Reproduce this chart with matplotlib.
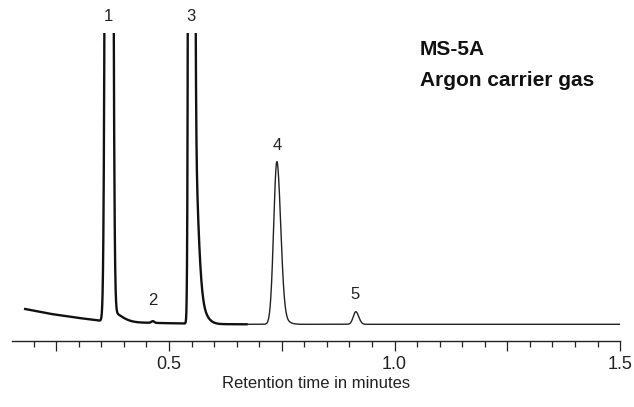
import numpy as np
import matplotlib.pyplot as plt
from matplotlib.ticker import FixedLocator, FixedFormatter

# peak components (time in min, height in detector units)
comp_time = [0.367, 0.369, 0.464, 0.549, 0.549, 0.549, 0.739, 0.741, 0.914]
comp_height = [4000, 10.2, 1.7, 8000, 230, 38, 155, 8, 12.6]
comp_sig_left = [0.00455, 0.005, 0.0033, 0.0029, 0.0033, 0.0033, 0.0071, 0.007, 0.0056]
comp_sig_right = [0.00455, 0.0237, 0.0033, 0.0035, 0.0106, 0.020, 0.0084, 0.016, 0.0066]

# baseline drift at the start of the run
drift_time = [0.181, 0.236, 0.292, 0.347, 0.40, 0.447, 0.53, 0.60, 0.67, 1.5]
drift_level = [15.3, 10.5, 6.8, 3.6, 2.0, 1.6, 0.8, 0.2, 0.0, 0.0]

peak_labels = ['1', '2', '3', '4', '5']
label_time = [0.365, 0.4645, 0.549, 0.739, 0.912]
label_level = [308, 24, 308, 179, 30]

tick_major = [0.25, 0.5, 0.75, 1.0, 1.25, 1.5]
tick_major_text = ['', '0.5', '', '1.0', '', '1.5']
tick_minor = [0.20, 0.30, 0.35, 0.40, 0.45, 0.55, 0.60, 0.65, 0.70, 0.80, 0.85,
              0.90, 0.95, 1.05, 1.10, 1.15, 1.20, 1.30, 1.35, 1.40, 1.45]

font = ['Liberation Sans Narrow', 'Liberation Sans', 'DejaVu Sans']
plt.rcParams['font.family'] = font

t = np.linspace(drift_time[0], drift_time[-1], 8000)
signal = np.interp(t, drift_time, drift_level)
for c, h, sl, sr in zip(comp_time, comp_height, comp_sig_left, comp_sig_right):
    s = np.where(t < c, sl, sr)
    signal = signal + h * np.exp(-(t - c) ** 2 / (2 * s ** 2))

fig = plt.figure(figsize=(6.34, 4.07), dpi=100)
ax = fig.add_axes([0.0185, 0.1629, 0.9595, 0.7553])

split = t <= 0.672
ax.plot(t[split], signal[split], color='#111111', lw=1.7, solid_joinstyle='round')
ax.plot(t[~split], signal[~split], color='#222222', lw=1.0)

for lab, x, y in zip(peak_labels, label_time, label_level):
    ax.text(x, y, lab, ha='center', va='center', fontsize=12, color='#222222')

ax.text(1.0565, 269.3, 'MS-5A', fontsize=15, fontweight='bold', va='baseline', color='#111111')
ax.text(1.0565, 238.3, 'Argon carrier gas', fontsize=15, fontweight='bold', va='baseline', color='#111111')

ax.set_xlim(0.1512, 1.5)
ax.set_ylim(-16.4, 291)
for side in ['top', 'right', 'left']:
    ax.spines[side].set_visible(False)
ax.spines['bottom'].set_linewidth(1.0)
ax.spines['bottom'].set_color('#222222')
ax.set_yticks([])
ax.xaxis.set_major_locator(FixedLocator(tick_major))
ax.xaxis.set_major_formatter(FixedFormatter(tick_major_text))
ax.xaxis.set_minor_locator(FixedLocator(tick_minor))
ax.tick_params(axis='x', which='major', length=7.2, width=0.9, color='#222222',
               labelsize=13, pad=4, labelcolor='#222222')
ax.tick_params(axis='x', which='minor', length=4.3, width=0.9, color='#222222')
ax.set_xlabel('Retention time in minutes', fontsize=12, color='#222222', labelpad=2)

fig.savefig('out.png', dpi=100)
